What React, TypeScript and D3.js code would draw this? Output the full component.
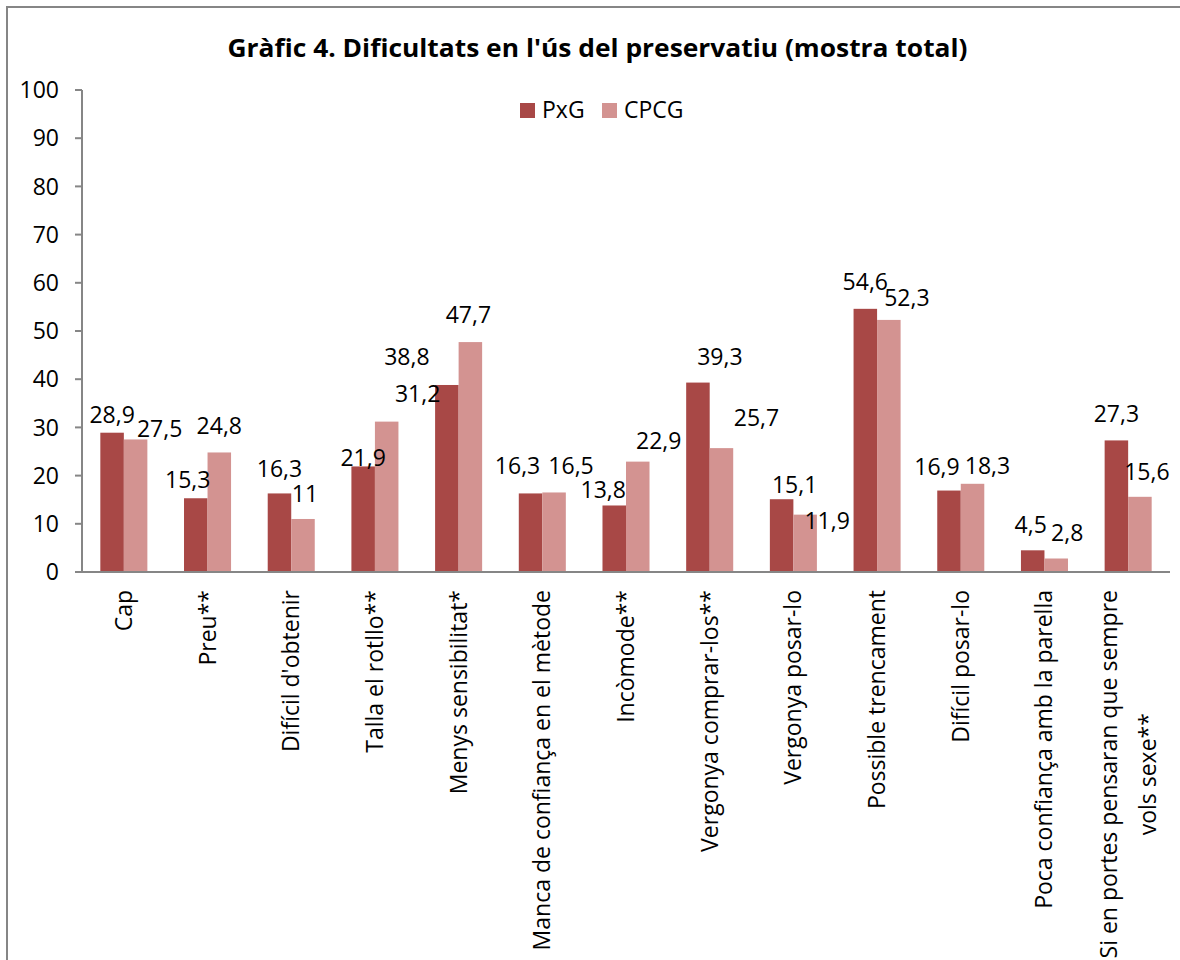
import { useLayoutEffect, useRef, useState } from 'react';
import * as d3 from 'd3';

const categories = [
  'Cap',
  'Preu**',
  "Difícil d'obtenir",
  'Talla el rotllo**',
  'Menys sensibilitat*',
  'Manca de confiança en el mètode',
  'Incòmode**',
  'Vergonya comprar-los**',
  'Vergonya posar-lo',
  'Possible trencament',
  'Difícil posar-lo',
  'Poca confiança amb la parella',
  'Si en portes pensaran que sempre vols sexe**',
];
const pxg = [28.9, 15.3, 16.3, 21.9, 38.8, 16.3, 13.8, 39.3, 15.1, 54.6, 16.9, 4.5, 27.3];
const cpcg = [27.5, 24.8, 11, 31.2, 47.7, 16.5, 22.9, 25.7, 11.9, 52.3, 18.3, 2.8, 15.6];
const seriesNames = ['PxG', 'CPCG'];
const yTicks = [0, 10, 20, 30, 40, 50, 60, 70, 80, 90, 100];

// hand-moved data labels in the original (dx, dy from the default spot above the bar)
const pxgLabelNudge = [
  [0, 0], [-8, 0], [0, -6], [0, 10], [-40, -10], [-13, -9], [-11, 3],
  [22, -8], [13, 4], [0, -9], [-12, -6], [-2, -7], [0, -8],
];
const cpcgLabelNudge = [
  [24, 8], [0, -8], [2, -7], [31, -10], [-2, -9], [17, -8], [21, -3],
  [35, -12], [22, 24], [18, -4], [15, 0], [11, -8], [7, -7],
];

const TITLE = "Gràfic 4. Dificultats en l'ús del preservatiu (mostra total)";
const COLORS = ['#a84846', '#d39391'];
const AXIS = '#868686';
const FONT = "'Open Sans', sans-serif";
const FS = 23;

const PLOT = { left: 82, right: 1170, top: 90, bottom: 572 };
const MAX_LINE = 32;

// break long category names the way Excel wrapped them
const wrap = (s: string) => {
  if (s.length <= MAX_LINE) return [s];
  const cut = s.lastIndexOf(' ', MAX_LINE);
  return [s.slice(0, cut), s.slice(cut + 1)];
};

const fmt = (v: number) => String(v).replace('.', ',');

export default function App() {
  const firstLineRef = useRef<SVGTextElement>(null);
  const [firstLen, setFirstLen] = useState(374);

  useLayoutEffect(() => {
    if (firstLineRef.current) setFirstLen(firstLineRef.current.getComputedTextLength());
  }, []);

  const x = d3
    .scaleBand()
    .domain(categories)
    .range([PLOT.left, PLOT.right])
    .paddingInner(0.438)
    .paddingOuter(0.219);
  const xs = d3.scaleBand().domain(seriesNames).range([0, x.bandwidth()]);
  const y = d3.scaleLinear().domain([0, 100]).range([PLOT.bottom, PLOT.top]);

  const series = [pxg, cpcg];
  const nudges = [pxgLabelNudge, cpcgLabelNudge];

  return (
    <svg
      width={1180}
      height={960}
      style={{ position: 'absolute', left: 0, top: 0, overflow: 'hidden', background: '#fff' }}
      fontFamily={FONT}
    >
      <rect x={7} y={7} width={1300} height={1100} fill="#fff" stroke={AXIS} strokeWidth={2} />

      <text
        x={597.5}
        y={57}
        textAnchor="middle"
        fontSize={25}
        fontWeight="bold"
        textLength={740}
        lengthAdjust="spacingAndGlyphs"
        fill="#000"
      >
        {TITLE}
      </text>

      {/* legend */}
      <g>
        <rect x={520} y={103} width={15} height={15} fill={COLORS[0]} />
        <text x={542} y={118} fontSize={FS} fill="#000">{seriesNames[0]}</text>
        <rect x={602} y={103} width={15} height={15} fill={COLORS[1]} />
        <text x={624} y={118} fontSize={FS} fill="#000">{seriesNames[1]}</text>
      </g>

      {/* y axis */}
      <line x1={PLOT.left} x2={PLOT.left} y1={y(100)} y2={y(0)} stroke={AXIS} strokeWidth={2} />
      {yTicks.map((t) => (
        <g key={t}>
          <line x1={PLOT.left - 7} x2={PLOT.left} y1={y(t)} y2={y(t)} stroke={AXIS} strokeWidth={2} />
          <text x={59} y={y(t)} dy="0.36em" textAnchor="end" fontSize={FS} fill="#000">
            {t}
          </text>
        </g>
      ))}

      {/* bars */}
      {categories.map((c, i) => {
        const x0 = x(c) ?? 0;
        return (
          <g key={c}>
            {series.map((vals, s) => (
              <rect
                key={s}
                x={x0 + (xs(seriesNames[s]) ?? 0)}
                y={y(vals[i])}
                width={xs.bandwidth()}
                height={y(0) - y(vals[i])}
                fill={COLORS[s]}
              />
            ))}
          </g>
        );
      })}

      {/* baseline */}
      <line x1={PLOT.left - 7} x2={PLOT.right} y1={y(0)} y2={y(0)} stroke={AXIS} strokeWidth={2} />

      {/* value labels */}
      {categories.map((c, i) => {
        const x0 = x(c) ?? 0;
        return series.map((vals, s) => {
          const [dx, dy] = nudges[s][i];
          return (
            <text
              key={c + s}
              x={x0 + (xs(seriesNames[s]) ?? 0) + xs.bandwidth() / 2 + dx}
              y={y(vals[i]) - 10 + dy}
              textAnchor="middle"
              fontSize={FS}
              fill="#000"
            >
              {fmt(vals[i])}
            </text>
          );
        });
      })}

      {/* category labels */}
      {categories.map((c) => {
        const cx = (x(c) ?? 0) + x.bandwidth() / 2;
        const lines = wrap(c);
        const transform = `translate(${cx},590) rotate(-90)`;
        if (lines.length === 1) {
          return (
            <text key={c} transform={transform} y={8} textAnchor="end" fontSize={FS} fill="#000">
              {c}
            </text>
          );
        }
        return (
          <g key={c} transform={transform}>
            <text ref={firstLineRef} y={8 - 19.5} textAnchor="end" fontSize={FS} fill="#000">
              {lines[0]}
            </text>
            <text x={-firstLen / 2} y={8 + 19.5} textAnchor="middle" fontSize={FS} fill="#000">
              {lines[1]}
            </text>
          </g>
        );
      })}
    </svg>
  );
}
